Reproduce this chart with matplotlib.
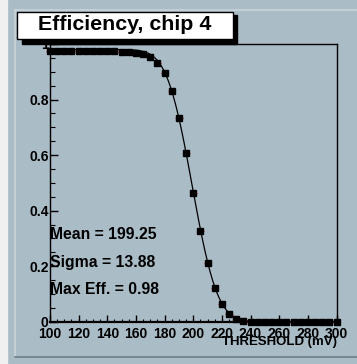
import math
import numpy as np
import matplotlib
matplotlib.use("Agg")
import matplotlib.pyplot as plt
from matplotlib.patches import Rectangle
from matplotlib.lines import Line2D
from matplotlib.ticker import MultipleLocator

plt.rcParams['font.family'] = ['Liberation Sans', 'DejaVu Sans']
plt.rcParams['font.weight'] = 'bold'

# threshold scan, one point per 5 mV step
threshold = list(range(100, 305, 5))
efficiency = [0.975] * 10 + [
    0.971, 0.970, 0.969, 0.964, 0.953, 0.931, 0.896, 0.829, 0.734,
    0.608, 0.462, 0.325, 0.212, 0.121, 0.064, 0.028, 0.010, 0.003,
] + [0.0] * 13

# erfc fit results
fit_mean = 199.25
fit_sigma = 13.88
fit_max = 0.98

PAD = '#aabcc6'
W, H = 357, 364

def fx(px):
    return px / W

def fy(py):
    return 1 - py / H

fig = plt.figure(figsize=(W / 100, H / 100), dpi=100, facecolor=PAD)

# canvas edge and bevelled pad border
fig.patches.append(Rectangle((0, 0), fx(6.5), 1, transform=fig.transFigure,
                             color='#f0f0f0', zorder=0))
fig.lines.append(Line2D([fx(15), 1], [fy(10), fy(10)], transform=fig.transFigure,
                        color='#c9d3d9', lw=1.2))
fig.lines.append(Line2D([fx(15), fx(15)], [fy(10), fy(357)], transform=fig.transFigure,
                        color='#c9d3d9', lw=1.2))
fig.lines.append(Line2D([fx(15), 1], [fy(357), fy(357)], transform=fig.transFigure,
                        color='#6f7d85', lw=1.2))

ax = fig.add_axes([fx(50), 1 - 321.7 / H, (336.5 - 50) / W, (321.7 - 44) / H])
ax.set_facecolor(PAD)

xs = np.linspace(100, 300, 500)
ys = [fit_max * 0.5 * math.erfc((x - fit_mean) / (math.sqrt(2) * fit_sigma)) for x in xs]
ax.plot(xs, ys, color='black', lw=0.9, zorder=3, clip_on=False)

ax.errorbar(threshold, efficiency, xerr=2.5, fmt='none', ecolor='red', elinewidth=0.7,
            zorder=4, clip_on=False)
ax.plot(threshold, efficiency, 's', color='black', ms=4.6, zorder=5, clip_on=False)

ax.set_xlim(100, 300)
ax.set_ylim(0, 1.0)
ax.xaxis.set_major_locator(MultipleLocator(20))
ax.xaxis.set_minor_locator(MultipleLocator(5))
ax.yaxis.set_major_locator(MultipleLocator(0.2))
ax.yaxis.set_minor_locator(MultipleLocator(0.05))


def ylab(v, pos):
    if abs(v) < 1e-6:
        return '0'
    if abs(v - 1) < 1e-6:
        return '1'
    return f'{v:.1f}'


ax.yaxis.set_major_formatter(plt.FuncFormatter(ylab))

ax.tick_params(axis='both', which='both', direction='in', top=False, right=False,
               labelsize=10, colors='black')
ax.tick_params(axis='x', which='major', length=5, width=1, pad=3.5)
ax.tick_params(axis='x', which='minor', length=2.5, width=0.8)
ax.tick_params(axis='y', which='major', length=6, width=1, pad=1)
ax.tick_params(axis='y', which='minor', length=3.5, width=0.8)
for lab in ax.get_xticklabels() + ax.get_yticklabels():
    lab.set_fontweight('bold')

for side in ['left', 'top', 'right']:
    ax.spines[side].set_linewidth(1.0)
ax.spines['bottom'].set_linewidth(1.6)

fig.text(fx(336.5), fy(342.5), 'THRESHOLD (mV)', ha='right', va='center',
         fontsize=9.5, fontweight='bold')

fig.text(fx(50), fy(234), f'Mean = {fit_mean:.2f}', ha='left', va='center',
         fontsize=11.3, fontweight='bold')
fig.text(fx(50), fy(262.7), f'Sigma = {fit_sigma:.2f}', ha='left', va='center',
         fontsize=11.3, fontweight='bold')
fig.text(fx(50), fy(290), f'Max Eff. = {fit_max:.2f}', ha='left', va='center',
         fontsize=11.3, fontweight='bold')

# title box with drop shadow
fig.patches.append(Rectangle((fx(22), fy(43.5)), fx(237) - fx(22), fy(15) - fy(43.5),
                             transform=fig.transFigure, color='black', zorder=5))
fig.patches.append(Rectangle((fx(17.3), fy(39.3)), fx(232.7) - fx(17.3), fy(11.7) - fy(39.3),
                             transform=fig.transFigure, facecolor='white',
                             edgecolor='black', lw=1, zorder=6))
fig.text(fx(124.5), fy(25), 'Efficiency, chip 4', ha='center', va='center',
         fontsize=15.4, fontweight='bold', zorder=7)

fig.savefig('out.png', dpi=100, facecolor=fig.get_facecolor())
